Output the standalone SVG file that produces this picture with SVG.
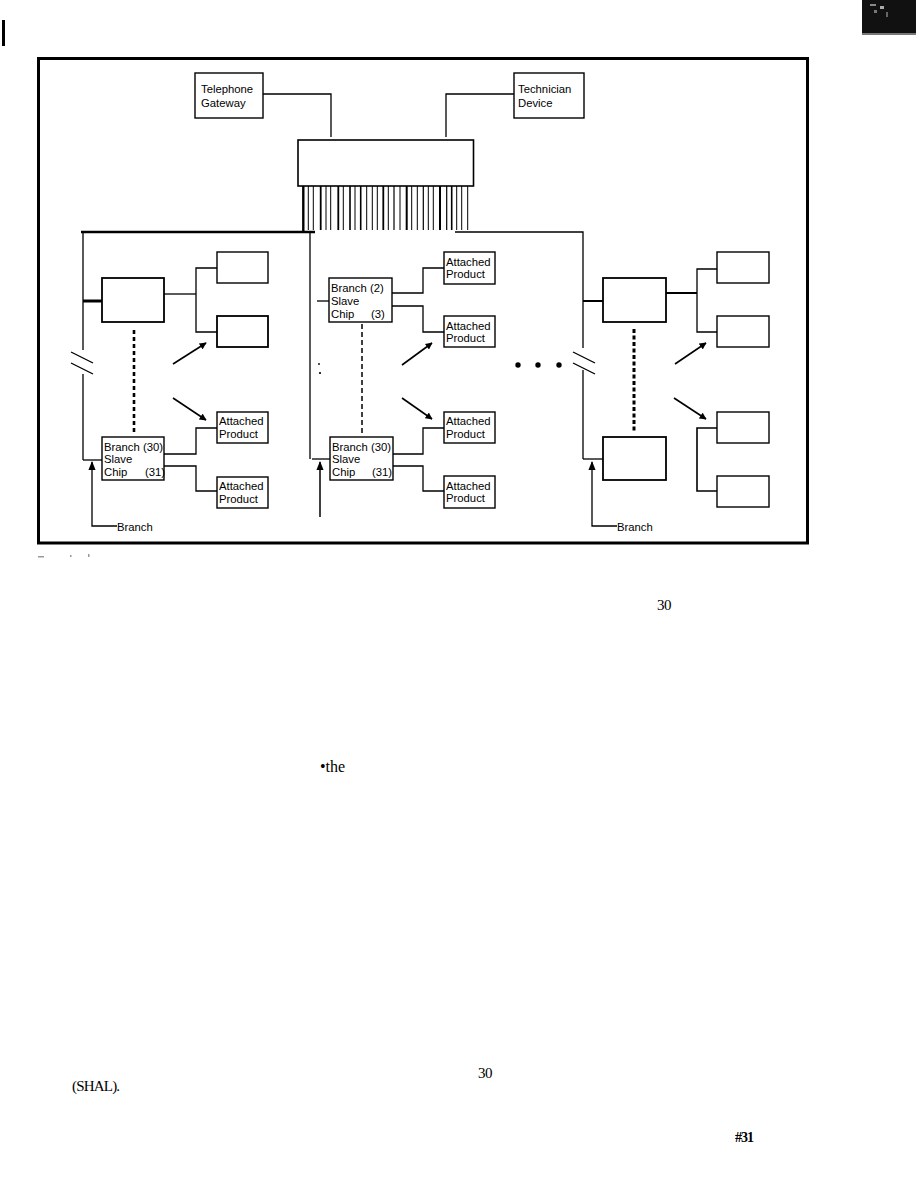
<svg xmlns="http://www.w3.org/2000/svg" width="921" height="1190" viewBox="0 0 921 1190">
<style>
.box{fill:#fff;stroke:#000;stroke-width:1.4}
.bx2{fill:#fff;stroke:#000;stroke-width:1.8}
.ln{fill:none;stroke:#000;stroke-width:1.3}
.thk{fill:none;stroke:#000;stroke-width:2.4}
.t{font-family:"Liberation Sans",Arial,sans-serif;font-size:11.3px;fill:#000}
.s{font-family:"Liberation Serif","Times New Roman",serif;font-size:16px;fill:#000}
.arr{fill:none;stroke:#000;stroke-width:1.6;marker-end:url(#ah)}
</style>
<defs>
<marker id="ah" viewBox="0 0 10 10" refX="9" refY="5" markerWidth="7" markerHeight="7" orient="auto" markerUnits="userSpaceOnUse">
<path d="M0,0 L10,5 L0,10 z" fill="#000"/>
</marker>
<marker id="ah2" viewBox="0 0 10 10" refX="9" refY="5" markerWidth="9" markerHeight="9" orient="auto" markerUnits="userSpaceOnUse">
<path d="M0,1 L10,5 L0,9 z" fill="#000"/>
</marker>
</defs>
<rect width="921" height="1190" fill="#fff"/>
<!-- page marks -->
<rect x="2" y="20" width="3" height="26" fill="#000"/>
<rect x="862" y="0" width="54" height="35" fill="#111"/>
<rect x="870" y="4" width="6" height="2" fill="#888"/>
<rect x="880" y="6" width="4" height="3" fill="#aaa"/>
<rect x="874" y="10" width="3" height="3" fill="#777"/>
<rect x="886" y="12" width="2" height="5" fill="#666"/>
<rect x="862" y="33" width="54" height="2" fill="#777"/>
<!-- frame -->
<rect x="38.5" y="58.5" width="769" height="484.5" fill="none" stroke="#000" stroke-width="3"/>
<g id="fig-marks" fill="#999">
<rect x="38" y="556" width="6" height="1.5"/>
<rect x="70" y="555" width="1.5" height="2"/>
<rect x="88" y="554" width="1.5" height="3"/>
</g>
<g id="connectors">
<!-- top links -->
<polyline class="ln" points="263,94 331,94 331,137"/>
<polyline class="ln" points="514,94 446,94 446,137"/>
<!-- bus lines -->
<g stroke="#000">
<line x1="303.3" y1="186" x2="303.3" y2="233" stroke-width="2.4"/>
<line x1="308.3" y1="186" x2="308.3" y2="230" stroke-width="1"/>
<line x1="313.3" y1="186" x2="313.3" y2="230" stroke-width="1"/>
<line x1="320.7" y1="186" x2="320.7" y2="230" stroke-width="1.8"/>
<line x1="326" y1="186" x2="326" y2="230" stroke-width="1"/>
<line x1="330.7" y1="186" x2="330.7" y2="230" stroke-width="1"/>
<line x1="338.3" y1="186" x2="338.3" y2="230" stroke-width="1.8"/>
<line x1="343.3" y1="186" x2="343.3" y2="230" stroke-width="1"/>
<line x1="350" y1="186" x2="350" y2="230" stroke-width="1.6"/>
<line x1="355" y1="186" x2="355" y2="230" stroke-width="1"/>
<line x1="360.7" y1="186" x2="360.7" y2="230" stroke-width="1.6"/>
<line x1="366.7" y1="186" x2="366.7" y2="230" stroke-width="1"/>
<line x1="372.3" y1="186" x2="372.3" y2="230" stroke-width="1"/>
<line x1="377.3" y1="186" x2="377.3" y2="230" stroke-width="1"/>
<line x1="383.3" y1="186" x2="383.3" y2="230" stroke-width="1.8"/>
<line x1="388.3" y1="186" x2="388.3" y2="230" stroke-width="1"/>
<line x1="394" y1="186" x2="394" y2="230" stroke-width="1.2"/>
<line x1="400" y1="186" x2="400" y2="230" stroke-width="1"/>
<line x1="406.7" y1="186" x2="406.7" y2="230" stroke-width="2"/>
<line x1="411.7" y1="186" x2="411.7" y2="230" stroke-width="1"/>
<line x1="417.3" y1="186" x2="417.3" y2="230" stroke-width="1"/>
<line x1="423.3" y1="186" x2="423.3" y2="230" stroke-width="1.2"/>
<line x1="428.3" y1="186" x2="428.3" y2="230" stroke-width="1"/>
<line x1="433.3" y1="186" x2="433.3" y2="230" stroke-width="1"/>
<line x1="440" y1="186" x2="440" y2="230" stroke-width="2"/>
<line x1="446.7" y1="186" x2="446.7" y2="230" stroke-width="1.2"/>
<line x1="451.7" y1="186" x2="451.7" y2="230" stroke-width="1.6"/>
<line x1="456.7" y1="186" x2="456.7" y2="230" stroke-width="1"/>
<line x1="461.7" y1="186" x2="461.7" y2="230" stroke-width="1"/>
<line x1="467.7" y1="186" x2="467.7" y2="230" stroke-width="1"/>
</g>
<!-- main horizontal lines -->
<line x1="81" y1="232" x2="315" y2="232" stroke="#000" stroke-width="2.6"/>
<polyline class="ln" points="455,232 583,232 583,348"/>
<!-- left trunk -->
<line x1="83" y1="232" x2="83" y2="350" class="ln"/>
<line x1="83" y1="374" x2="83" y2="460" class="ln"/>
<line x1="71" y1="352" x2="93" y2="363" class="ln"/>
<line x1="71" y1="363" x2="93" y2="374" class="ln"/>
<line x1="83" y1="301" x2="102" y2="301" stroke="#000" stroke-width="3"/>
<line x1="83" y1="460" x2="102" y2="460" class="ln"/>
<!-- middle trunk -->
<line x1="310" y1="232" x2="310" y2="459" class="ln"/>
<line x1="317" y1="301" x2="329" y2="301" class="ln"/>
<line x1="312" y1="459" x2="330" y2="459" class="ln"/>
<!-- right trunk -->
<line x1="583" y1="370" x2="583" y2="459" class="ln"/>
<line x1="573" y1="352" x2="595" y2="363" class="ln"/>
<line x1="573" y1="363" x2="595" y2="374" class="ln"/>
<line x1="583" y1="301" x2="603" y2="301" stroke="#000" stroke-width="2"/>
<line x1="583" y1="459" x2="603" y2="459" class="ln"/>
<!-- left group connectors -->
<polyline class="ln" points="164,294 196,294"/>
<polyline class="ln" points="217,268 196,268 196,332 217,332"/>
<polyline class="ln" points="164,454 196,454 196,428 217,428"/>
<polyline class="ln" points="164,466 196,466 196,491 217,491"/>
<!-- middle group connectors -->
<polyline class="ln" points="392,293 423,293 423,268 444,268"/>
<polyline class="ln" points="392,306 423,306 423,332 444,332"/>
<polyline class="ln" points="393,454 423,454 423,428 444,428"/>
<polyline class="ln" points="393,466 423,466 423,491 444,491"/>
<!-- right group connectors -->
<line x1="666" y1="293" x2="697" y2="293" stroke="#000" stroke-width="2"/>
<polyline class="ln" points="717,269 697,269 697,332 717,332"/>
<polyline class="ln" points="717,428 697,428 697,491 717,491" style="stroke-width:1.6"/>
<!-- dashed continuation lines -->
<line x1="134" y1="330" x2="134" y2="433" stroke="#000" stroke-width="2.6" stroke-dasharray="4,3"/>
<line x1="362" y1="324" x2="362" y2="433" stroke="#000" stroke-width="1.5" stroke-dasharray="5,3"/>
<line x1="634" y1="329" x2="634" y2="433" stroke="#000" stroke-width="3" stroke-dasharray="4,2.5"/>
<!-- diagonal arrows -->
<line class="arr" x1="173" y1="364" x2="206" y2="343"/>
<line class="arr" x1="173" y1="398" x2="206" y2="420"/>
<line class="arr" x1="402" y1="365" x2="432" y2="343"/>
<line class="arr" x1="402" y1="398" x2="432" y2="419"/>
<line class="arr" x1="675" y1="364" x2="706" y2="343"/>
<line class="arr" x1="674" y1="398" x2="706" y2="419"/>
<!-- branch input arrows -->
<polyline points="117,526 92,526 92,462" fill="none" stroke="#000" stroke-width="1.3" marker-end="url(#ah2)"/>
<polyline points="320,517 320,462" fill="none" stroke="#000" stroke-width="1.5" marker-end="url(#ah2)"/>
<polyline points="617,526 592,526 592,462" fill="none" stroke="#000" stroke-width="1.3" marker-end="url(#ah2)"/>
<!-- ellipsis dots -->
<circle cx="518" cy="365" r="2.7" fill="#000"/>
<circle cx="538" cy="365" r="2.7" fill="#000"/>
<circle cx="559" cy="365" r="2.7" fill="#000"/>
<circle cx="319" cy="364" r="0.9" fill="#000"/>
<circle cx="320" cy="373" r="1.1" fill="#000"/>
</g>
<!-- nodes -->
<g id="telephone-gateway">
<rect class="box" x="195" y="73" width="68" height="45"/>
<text class="t" x="201" y="93">Telephone</text>
<text class="t" x="201" y="107">Gateway</text>
</g>
<g id="technician-device">
<rect class="box" x="514" y="73" width="70" height="45"/>
<text class="t" x="518" y="93">Technician</text>
<text class="t" x="518" y="107">Device</text>
</g>
<g id="master-chip">
<rect x="298" y="140" width="175.5" height="46" fill="#fff" stroke="#000" stroke-width="1.6"/>
</g>
<g id="left-chip-top"><rect class="bx2" x="102" y="278" width="62" height="44"/></g>
<g id="left-prod-1"><rect class="box" x="217" y="252" width="51" height="31"/></g>
<g id="left-prod-2"><rect class="bx2" x="217" y="316" width="51" height="31"/></g>
<g id="left-chip-bottom">
<rect class="box" x="102" y="437" width="62" height="43"/>
<text class="t" x="104" y="451">Branch (30)</text>
<text class="t" x="104" y="463">Slave</text>
<text class="t" x="104" y="476">Chip</text>
<text class="t" x="145" y="476">(31)</text>
</g>
<g id="left-prod-3">
<rect class="box" x="217" y="412" width="51" height="31"/>
<text class="t" x="219" y="425">Attached</text>
<text class="t" x="219" y="438">Product</text>
</g>
<g id="left-prod-4">
<rect class="box" x="217" y="477" width="51" height="31"/>
<text class="t" x="219" y="490">Attached</text>
<text class="t" x="219" y="503">Product</text>
</g>
<g id="mid-chip-top">
<rect class="box" x="329" y="278" width="63" height="44"/>
<text class="t" x="331" y="292">Branch (2)</text>
<text class="t" x="331" y="305">Slave</text>
<text class="t" x="331" y="318">Chip</text>
<text class="t" x="371" y="318">(3)</text>
</g>
<g id="mid-prod-1">
<rect class="box" x="444" y="252" width="51" height="32"/>
<text class="t" x="446" y="266">Attached</text>
<text class="t" x="446" y="278">Product</text>
</g>
<g id="mid-prod-2">
<rect class="box" x="444" y="316" width="51" height="31"/>
<text class="t" x="446" y="330">Attached</text>
<text class="t" x="446" y="342">Product</text>
</g>
<g id="mid-chip-bottom">
<rect class="box" x="330" y="437" width="63" height="43"/>
<text class="t" x="332" y="451">Branch (30)</text>
<text class="t" x="332" y="463">Slave</text>
<text class="t" x="332" y="476">Chip</text>
<text class="t" x="372" y="476">(31)</text>
</g>
<g id="mid-prod-3">
<rect class="box" x="444" y="412" width="51" height="31"/>
<text class="t" x="446" y="425">Attached</text>
<text class="t" x="446" y="438">Product</text>
</g>
<g id="mid-prod-4">
<rect class="box" x="444" y="476" width="51" height="32"/>
<text class="t" x="446" y="490">Attached</text>
<text class="t" x="446" y="502">Product</text>
</g>
<g id="right-chip-top"><rect class="bx2" x="603" y="278" width="63" height="44"/></g>
<g id="right-prod-1"><rect class="box" x="717" y="252" width="52" height="31"/></g>
<g id="right-prod-2"><rect class="box" x="717" y="316" width="52" height="31"/></g>
<g id="right-chip-bottom"><rect class="bx2" x="603" y="437" width="63" height="43"/></g>
<g id="right-prod-3"><rect class="box" x="717" y="412" width="52" height="31"/></g>
<g id="right-prod-4"><rect class="box" x="717" y="476" width="52" height="31"/></g>
<!-- branch labels -->
<text class="t" x="117" y="531">Branch</text>
<text class="t" x="617" y="531">Branch</text>
<!-- stray page text -->
<text class="s" x="657" y="610" style="font-size:15px;letter-spacing:-0.5px">30</text>
<text class="s" x="320" y="772">•the</text>
<text class="s" x="478" y="1078" style="font-size:15px;letter-spacing:-0.5px">30</text>
<text class="s" x="72" y="1091" style="font-size:15px;letter-spacing:-0.8px">(SHAL).</text>
<text class="s" x="735" y="1142" style="font-size:14px;font-weight:bold;letter-spacing:-1px">#31</text>
</svg>
